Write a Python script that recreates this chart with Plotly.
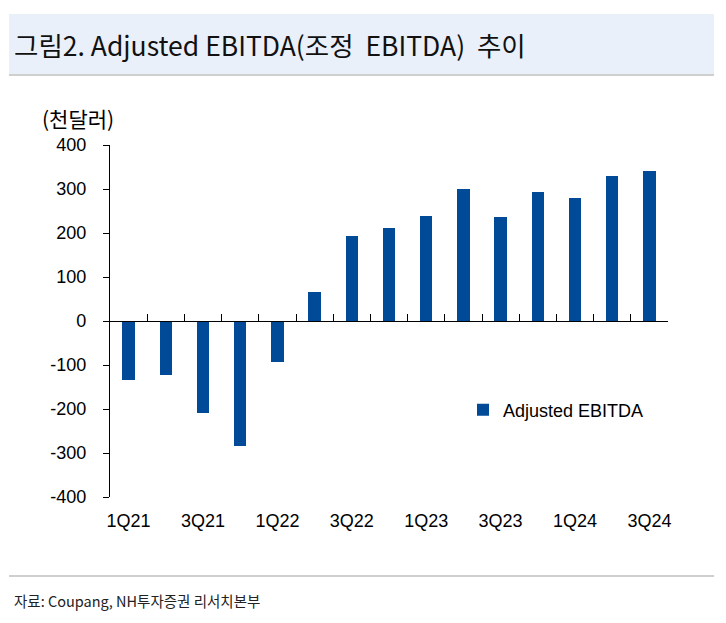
import plotly.graph_objects as go

# ---- data ----
quarters = ["1Q21", "2Q21", "3Q21", "4Q21", "1Q22", "2Q22", "3Q22", "4Q22",
            "1Q23", "2Q23", "3Q23", "4Q23", "1Q24", "2Q24", "3Q24"]
adj_ebitda = [-133, -123, -208, -284, -93, 66, 194, 211,
              239, 299, 237, 293, 280, 330, 342]
series_name = "Adjusted EBITDA"
y_ticks = [-400, -300, -200, -100, 0, 100, 200, 300, 400]
title_text = "그림2. Adjusted EBITDA(조정  EBITDA)  추이"
unit_text = "(천달러)"
source_text = "자료: Coupang, NH투자증권 리서치본부"

# page body has an 8px margin; figure sized to fill the rest of the window
OFF = 8
W, H = 726 - OFF, 623 - OFF
# plot-area edges in window pixels
L, R, T, B = 110, 668, 145, 497
Lf, Rf, Tf, Bf = L - OFF, R - OFF, T - OFF, B - OFF


def px(x):
    return (x - L) / (R - L)


def py(y):
    return (B - y) / (B - T)


idx = list(range(len(quarters)))
label_idx = idx[::2]
label_txt = [quarters[i] for i in label_idx]
bound_vals = [i - 0.5 for i in idx] + [idx[-1] + 0.5]
y_tick_txt = [str(v) for v in y_ticks]

fig = go.Figure()
fig.add_trace(go.Bar(x=idx, y=adj_ebitda, name=series_name,
                     marker=dict(color="#004A98", line=dict(width=0)),
                     width=0.33, xaxis="x", yaxis="y"))
fig.add_trace(go.Scatter(x=[None], y=[None], xaxis="x2", yaxis="y",
                         showlegend=False, hoverinfo="skip"))

tick_font = dict(family="Liberation Sans, Arial, sans-serif", size=18, color="black")
legend_font = dict(family="Liberation Sans, Arial, sans-serif", size=18, color="black")
xr = [-0.5, idx[-1] + 0.5]

fig.update_layout(
    width=W, height=H,
    margin=dict(l=Lf, r=W - Rf, t=Tf, b=H - Bf, pad=0),
    paper_bgcolor="white", plot_bgcolor="white",
    bargap=0,
    xaxis=dict(range=xr, tickvals=label_idx, ticktext=label_txt,
               showline=False, ticks="", showgrid=False, zeroline=False,
               tickfont=tick_font, ticklabelstandoff=11, anchor="y"),
    xaxis2=dict(range=xr, overlaying="x", anchor="free", position=0.5,
                side="bottom", tickvals=bound_vals, showticklabels=False,
                showline=True, linecolor="black", linewidth=1.3,
                ticks="inside", ticklen=7, tickcolor="black", tickwidth=1.3,
                showgrid=False, zeroline=False),
    yaxis=dict(range=[-400, 400], tickvals=y_ticks, ticktext=y_tick_txt,
               showline=True,
               linecolor="black", linewidth=1.3, ticks="outside", ticklen=6,
               tickcolor="black", tickwidth=1.3, showgrid=False, zeroline=False,
               tickfont=tick_font, ticklabelstandoff=13),
    legend=dict(x=px(463), y=py(410), xanchor="left", yanchor="middle",
                bgcolor="rgba(0,0,0,0)", font=legend_font, itemwidth=30),
    showlegend=True,
    font=dict(family="Liberation Sans, Arial, sans-serif"),
)

# header band and divider lines
fig.add_shape(type="rect", xref="paper", yref="paper",
              x0=px(9), x1=px(714), y0=py(74), y1=py(14),
              fillcolor="#EAF0F9", line=dict(width=0), layer="below")
fig.add_shape(type="line", xref="paper", yref="paper",
              x0=px(9), x1=px(714), y0=py(75), y1=py(75),
              line=dict(color="#BFBFBF", width=1.5))
fig.add_shape(type="line", xref="paper", yref="paper",
              x0=px(9), x1=px(714), y0=py(576), y1=py(576),
              line=dict(color="#BFBFBF", width=1.5))

fig.add_annotation(text=title_text, xref="paper", yref="paper",
                   x=px(12), y=py(44), xanchor="left", yanchor="middle",
                   showarrow=False,
                   font=dict(family="Noto Sans CJK KR", size=26.5, color="#111111"))
fig.add_annotation(text=unit_text, xref="paper", yref="paper",
                   x=px(78), y=py(118), xanchor="center", yanchor="middle",
                   showarrow=False,
                   font=dict(family="Noto Sans CJK KR", size=21, color="black"))
fig.add_annotation(text=source_text, xref="paper", yref="paper",
                   x=px(12), y=py(600), xanchor="left", yanchor="middle",
                   showarrow=False,
                   font=dict(family="Noto Sans CJK KR", size=14.5, color="#222222"))

fig.write_html("out.html")
